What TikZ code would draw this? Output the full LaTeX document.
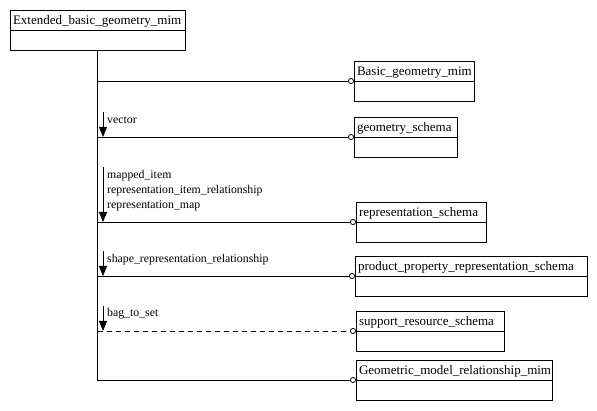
\documentclass[tikz,border=0pt]{standalone}
\usepackage{fontspec}
\setmainfont{Liberation Serif}
\usetikzlibrary{arrows.meta,positioning}

\begin{document}
\begin{tikzpicture}[x=1pt, y=-1pt,
  schemahead/.style={draw, line width=0.8pt, outer sep=0pt, anchor=north west, text width=#1, inner xsep=3pt, inner ysep=0pt, text height=15pt, text depth=5pt, font=\fontsize{13}{15}\selectfont},
  schemabody/.style={draw, line width=0.8pt, outer sep=0pt, text width=#1, inner xsep=3pt, inner ysep=0pt, text height=15pt, text depth=5pt},
  uses/.style={line width=0.8pt, -{Circle[open, length=6pt, width=6pt, line width=0.8pt]}},
  refarrow/.style={line width=0.8pt, -{Triangle[length=10pt, width=8pt]}},
  reflabel/.style={anchor=base west, inner sep=0pt, align=left, font=\fontsize{11.8}{15}\selectfont},
  node distance=0pt]
\useasboundingbox (0,0) rectangle (597,411);
% schemas
\node[schemahead=169pt] (ebg) at (10,10) {Extended\_basic\_geometry\_mim};
\node[schemabody=169pt, below=of ebg] (ebgb) {};
\node[schemahead=114pt] (bgm) at (354,61) {Basic\_geometry\_mim};
\node[schemabody=114pt, below=of bgm] (bgmb) {};
\node[schemahead=97pt] (gs) at (354,117) {geometry\_schema};
\node[schemabody=97pt, below=of gs] (gsb) {};
\node[schemahead=124pt] (rs) at (356,202) {representation\_schema};
\node[schemabody=124pt, below=of rs] (rsb) {};
\node[schemahead=226pt] (pprs) at (355,256) {product\_property\_representation\_schema};
\node[schemabody=226pt, below=of pprs] (pprsb) {};
\node[schemahead=142pt] (srs) at (356,311) {support\_resource\_schema};
\node[schemabody=142pt, below=of srs] (srsb) {};
\node[schemahead=190pt] (gmrm) at (356,360) {Geometric\_model\_relationship\_mim};
\node[schemabody=190pt, below=of gmrm] (gmrmb) {};
% links
\draw[uses] (ebgb.south) |- (gmrm.south west);
\draw[uses] (ebgb.south |- bgm.south west) -- (bgm.south west);
\draw[uses] (ebgb.south |- gs.south west) -- (gs.south west);
\draw[uses] (ebgb.south |- rs.south west) -- (rs.south west);
\draw[uses] (ebgb.south |- pprs.south west) -- (pprs.south west);
\draw[uses, dash pattern=on 5pt off 4pt] (ebgb.south |- srs.south west) -- (srs.south west);
% referenced items
\coordinate (vecA) at (103,112);
\coordinate (mapA) at (103,167);
\coordinate (shpA) at (103,251);
\coordinate (bagA) at (103,306);
\draw[refarrow] (vecA) -- (vecA |- gs.south west);
\draw[refarrow] (mapA) -- (mapA |- rs.south west);
\draw[refarrow] (shpA) -- (shpA |- pprs.south west);
\draw[refarrow] (bagA) -- (bagA |- srs.south west);
\node[reflabel] (vecL) at (107,124) {vector};
\node[reflabel] (mapL) at (107,209) {mapped\_item\\representation\_item\_relationship\\representation\_map};
\node[reflabel] (shpL) at (107,263) {shape\_representation\_relationship};
\node[reflabel] (bagL) at (107,317) {bag\_to\_set};
\end{tikzpicture}
\end{document}
